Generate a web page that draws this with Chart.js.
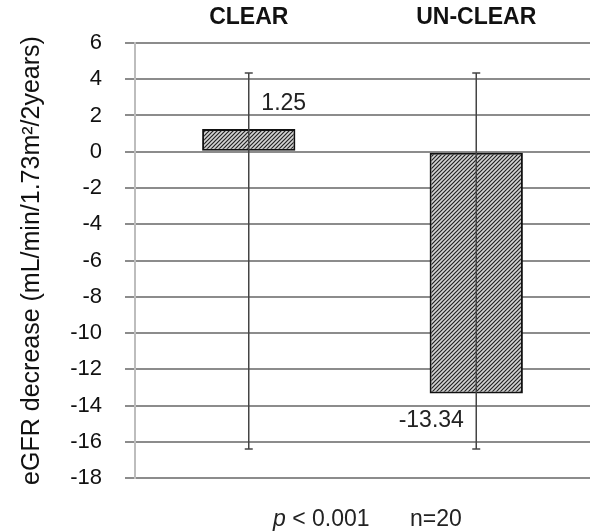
<!DOCTYPE html>
<html lang="en">
<head>
    <meta charset="UTF-8">
    <title>eGFR decrease</title>
    <style>
        body {
            margin: 0;
            padding: 0;
            background-color: #ffffff;
            font-family: 'Liberation Sans', Arial, sans-serif;
        }
        .wrap {
            position: relative;
            width: 590px;
            height: 532px;
        }
        .note {
            position: absolute;
            top: 505px;
            font-size: 23px;
            line-height: 26px;
            color: #222;
            white-space: pre;
        }
    </style>
</head>
<body>

<div class="wrap">
    <canvas id="egfrChart" width="590" height="532"></canvas>
    <div class="note" style="left:273px"><i>p</i> &lt; 0.001</div>
    <div class="note" style="left:410px">n=20</div>
</div>

<script src="https://cdn.jsdelivr.net/npm/chart.js@4.4.0/dist/chart.umd.min.js"></script>
<script>
    const groups = ['CLEAR', 'UN-CLEAR'];
    const meanDecrease = [1.25, -13.34];   // bar values
    const errHigh = [4.35, 4.35];         // top of error bars
    const errLow = [-16.4, -16.4];        // bottom of error bars
    const valueLabels = ['1.25', '-13.34'];

    const FONT = '"Liberation Sans", Arial, sans-serif';

    // diagonal hatch fill
    function hatch() {
        const c = document.createElement('canvas');
        c.width = 4;
        c.height = 4;
        const g = c.getContext('2d');
        g.fillStyle = '#d4d4d4';
        g.fillRect(0, 0, 4, 4);
        g.strokeStyle = '#222222';
        g.lineWidth = 1.2;
        g.beginPath();
        g.moveTo(0, 4); g.lineTo(4, 0);
        g.moveTo(-1, 1); g.lineTo(1, -1);
        g.moveTo(3, 5); g.lineTo(5, 3);
        g.stroke();
        return g.createPattern(c, 'repeat');
    }

    // error bars + value labels
    const extras = {
        id: 'extras',
        afterDatasetsDraw(chart) {
            const ctx = chart.ctx;
            const y = chart.scales.y;
            const meta = chart.getDatasetMeta(0);
            ctx.save();
            ctx.strokeStyle = '#444444';
            ctx.lineWidth = 1.5;
            meta.data.forEach((bar, i) => {
                const x = bar.x;
                const top = y.getPixelForValue(errHigh[i]);
                const bot = y.getPixelForValue(errLow[i]);
                ctx.beginPath();
                ctx.moveTo(x, top); ctx.lineTo(x, bot);
                ctx.moveTo(x - 4, top); ctx.lineTo(x + 4, top);
                ctx.moveTo(x - 4, bot); ctx.lineTo(x + 4, bot);
                ctx.stroke();
            });
            ctx.fillStyle = '#222';
            ctx.font = '23px ' + FONT;
            ctx.textAlign = 'center';
            ctx.textBaseline = 'middle';
            meta.data.forEach((bar, i) => {
                if (meanDecrease[i] >= 0) {
                    ctx.fillText(valueLabels[i], bar.x + 35, bar.y - 25);
                } else {
                    ctx.fillText(valueLabels[i], bar.x - 45, bar.y + 27);
                }
            });
            ctx.restore();
        }
    };

    const ctx = document.getElementById('egfrChart').getContext('2d');
    new Chart(ctx, {
        type: 'bar',
        data: {
            labels: groups,
            datasets: [{
                data: meanDecrease,
                backgroundColor: hatch(),
                borderColor: '#111111',
                borderWidth: 2,
                borderSkipped: false,
                barPercentage: 0.41,
                categoryPercentage: 1.0
            }]
        },
        options: {
            responsive: false,
            animation: false,
            layout: { padding: { left: 0, right: 0, top: 0, bottom: 54 } },
            plugins: {
                legend: { display: false },
                tooltip: { enabled: false }
            },
            scales: {
                x: {
                    position: 'top',
                    grid: { display: false },
                    border: { display: false },
                    ticks: {
                        color: '#111',
                        font: { family: FONT, size: 23, weight: 'bold' },
                        padding: 4
                    },
                    afterFit(scale) { scale.height = 43; }
                },
                y: {
                    min: -18,
                    max: 6,
                    ticks: {
                        stepSize: 2,
                        color: '#111',
                        padding: 23,
                        font: { family: FONT, size: 22 }
                    },
                    grid: {
                        color: '#8c8c8c',
                        lineWidth: 2,
                        tickLength: 10
                    },
                    border: { display: true, color: '#bdbdbd', width: 2 },
                    title: {
                        display: true,
                        text: 'eGFR decrease (mL/min/1.73m\u00b2/2years)',
                        color: '#111',
                        font: { family: FONT, size: 25 },
                        padding: { top: 17, bottom: 0 }
                    },
                    afterFit(scale) { scale.width = 135; }
                }
            }
        },
        plugins: [extras]
    });
</script>

</body>
</html>
